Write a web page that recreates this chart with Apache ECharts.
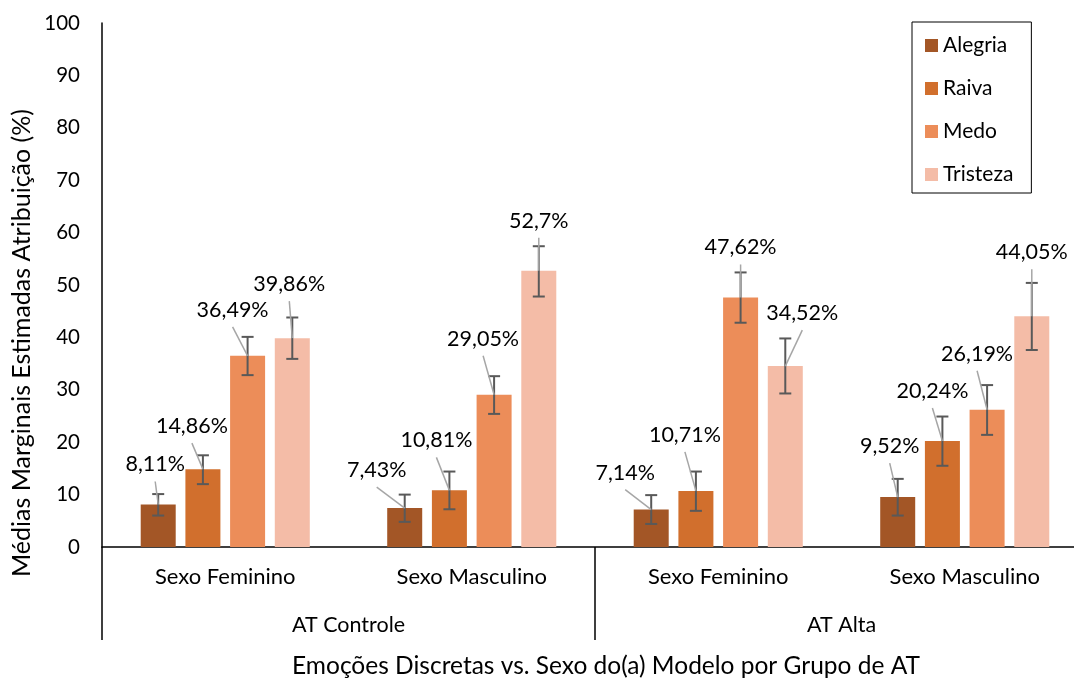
<!DOCTYPE html>
<html><head><meta charset="utf-8">
<script src="https://cdn.jsdelivr.net/npm/echarts@6/dist/echarts.min.js"></script>
<style>html,body{margin:0;padding:0;background:#fff}#c{width:1074px;height:681px}</style>
</head><body><div id="c"></div>
<script>
// ---- data ----
const groups = ['AT Controle', 'AT Alta'];
const categories = ['Sexo Feminino', 'Sexo Masculino', 'Sexo Feminino', 'Sexo Masculino'];
const emotions = ['Alegria', 'Raiva', 'Medo', 'Tristeza'];
const alegria = [8.11, 7.43, 7.14, 9.52];
const raiva = [14.86, 10.81, 10.71, 20.24];
const medo = [36.49, 29.05, 47.62, 26.19];
const tristeza = [39.86, 52.7, 34.52, 44.05];
const alegriaLow = [6.0, 4.8, 4.4, 6.0];
const alegriaHigh = [10.1, 10.0, 9.9, 13.0];
const raivaLow = [12.0, 7.2, 6.9, 15.5];
const raivaHigh = [17.5, 14.4, 14.4, 24.9];
const medoLow = [32.8, 25.4, 42.8, 21.4];
const medoHigh = [40.1, 32.6, 52.4, 30.9];
const tristezaLow = [35.9, 47.8, 29.3, 37.6];
const tristezaHigh = [43.8, 57.4, 39.8, 50.4];
const yMin = 0, yMax = 100, yStep = 10;
const yTitle = 'Médias Marginais Estimadas Atribuição (%)';
const xTitle = 'Emoções Discretas vs. Sexo do(a) Modelo por Grupo de AT';

// ---- layout / style ----
const colors = ['#A35626', '#D16F2D', '#EC8D59', '#F4BCA7'];
const BAR_W = 35, GAP = 0.277;
const FONT = 'Lato';
// label offsets [dx, dy] (px) from each bar's top centre, per emotion then category
const labelOffsets = [
  [[-3, -40], [-28, -38], [-26, -37], [-8, -51]],
  [[-11, -43], [-13, -50], [-11, -56], [-10, -50]],
  [[-15, -46], [-11, -56], [0, -50], [-10, -56]],
  [[-3, -54], [0, -50], [17, -53], [0, -64]]
];

const values = [alegria, raiva, medo, tristeza];
const lows = [alegriaLow, raivaLow, medoLow, tristezaLow];
const highs = [alegriaHigh, raivaHigh, medoHigh, tristezaHigh];

const errData = [];
values.forEach((arr, e) => arr.forEach((v, c) => errData.push([c, e, v, lows[e][c], highs[e][c]])));

function fmt(v) { return String(v).replace('.', ',') + '%'; }

function renderErr(params, api) {
  const c = api.value(0), e = api.value(1), v = api.value(2), lo = api.value(3), hi = api.value(4);
  const step = BAR_W * (1 + GAP);
  const off = (e - 1.5) * step;
  const top = api.coord([c, v]);
  const x = top[0] + off;
  const yLo = api.coord([c, lo])[1], yHi = api.coord([c, hi])[1];
  const o = labelOffsets[e][c];
  const lx = x + o[0], ly = top[1] + o[1];
  const cap = 6;
  const es = { stroke: '#595959', lineWidth: 2 };
  return {
    type: 'group', children: [
      { type: 'line', shape: { x1: x, y1: yLo, x2: x, y2: yHi }, style: es },
      { type: 'line', shape: { x1: x - cap, y1: yLo, x2: x + cap, y2: yLo }, style: es },
      { type: 'line', shape: { x1: x - cap, y1: yHi, x2: x + cap, y2: yHi }, style: es },
      { type: 'line', shape: { x1: lx, y1: ly + 17, x2: x, y2: top[1] }, style: { stroke: '#A6A6A6', lineWidth: 1.5 } },
      { type: 'text', x: lx, y: ly, style: { text: fmt(v), fill: '#000', font: '21.5px ' + FONT,
        align: 'center', verticalAlign: 'middle', textAlign: 'center', textVerticalAlign: 'middle' } }
    ]
  };
}

const chart = echarts.init(document.getElementById('c'), null, { renderer: 'canvas' });
const series = emotions.map((name, e) => ({
  name, type: 'bar', data: values[e], barWidth: BAR_W, barGap: (GAP * 100) + '%',
  itemStyle: { color: colors[e] }, xAxisIndex: 0, yAxisIndex: 0
}));
series.push({
  type: 'custom', data: errData, renderItem: renderErr, xAxisIndex: 0, yAxisIndex: 0,
  z: 5, clip: false, silent: true, encode: { x: 0, y: 2 }
});

chart.setOption({
  animation: false,
  textStyle: { fontFamily: FONT },
  grid: { left: 102, top: 23, width: 986, height: 524, containLabel: false, outerBoundsMode: 'none' },
  legend: {
    data: emotions, orient: 'vertical', left: 912, top: 22,
    padding: [13, 18, 8, 13], itemGap: 22, itemWidth: 13, itemHeight: 13, itemTextGap: 6,
    icon: 'rect', borderColor: '#000', borderWidth: 1,
    textStyle: { fontFamily: FONT, fontSize: 21, color: '#000' }
  },
  xAxis: [
    {
      type: 'category', data: categories, position: 'bottom', offset: 0,
      axisLine: { show: true, lineStyle: { color: '#000', width: 1.5 } },
      axisTick: { show: false },
      axisLabel: { margin: 19, fontFamily: FONT, fontSize: 22, color: '#000', interval: 0 }
    },
    {
      type: 'category', data: groups, position: 'bottom', offset: 0, gridIndex: 0,
      axisLine: { show: false },
      axisTick: { show: true, length: 93, lineStyle: { color: '#000', width: 1.5 } },
      axisLabel: { margin: 67, fontFamily: FONT, fontSize: 21.5, color: '#000', interval: 0 }
    }
  ],
  yAxis: {
    type: 'value', min: yMin, max: yMax, interval: yStep,
    axisLine: { show: true, lineStyle: { color: '#000', width: 1.5 } },
    axisTick: { show: false }, splitLine: { show: false },
    axisLabel: { margin: 22, fontFamily: FONT, fontSize: 20.5, color: '#000' }
  },
  graphic: [
    { type: 'text', x: 22, y: 343, rotation: Math.PI / 2,
      style: { text: yTitle, font: '25px ' + FONT, fill: '#000', align: 'center', verticalAlign: 'middle',
        textAlign: 'center', textVerticalAlign: 'middle' } },
    { type: 'text', x: 606, y: 666,
      style: { text: xTitle, font: '24.5px ' + FONT, fill: '#000', align: 'center', verticalAlign: 'middle',
        textAlign: 'center', textVerticalAlign: 'middle' } }
  ],
  series
});
</script></body></html>
